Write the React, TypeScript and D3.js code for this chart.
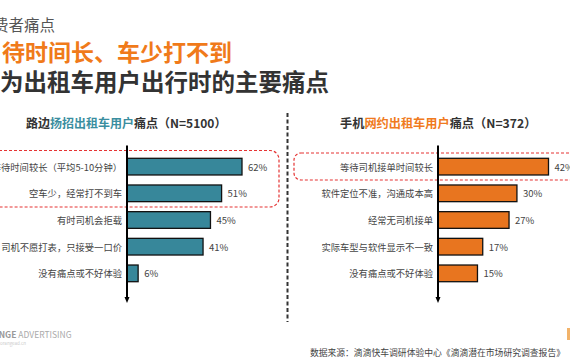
import React from "react";
import * as d3 from "d3";

const leftCategories = [
  "等待时间较长（平均5-10分钟）",
  "空车少，经常打不到车",
  "有时司机会拒载",
  "司机不愿打表，只接受一口价",
  "没有痛点或不好体验",
];
const leftValues = [62, 51, 45, 41, 6];
const rightCategories = [
  "等待司机接单时间较长",
  "软件定位不准，沟通成本高",
  "经常无司机接单",
  "实际车型与软件显示不一致",
  "没有痛点或不好体验",
];
const rightValues = [42, 30, 27, 17, 15];

const FONT = "'Noto Sans CJK SC', 'Noto Sans', sans-serif";
const TEAL = "#37879a";
const ORANGE = "#e8751f";

function Panel({ cats, vals, axisX, width, color }: { cats: string[]; vals: number[]; axisX: number; width: number; color: string }) {
  const y = d3.scaleBand<string>().domain(cats).range([153.3, 286.7]).paddingInner(0.375).paddingOuter(0.1875);
  const x = d3.scaleLinear().domain([0, d3.max(vals) as number]).range([axisX, axisX + width]);
  return (
    <g>
      {cats.map((c, i) => (
        <g key={c}>
          <rect x={x(0)} y={y(c)} width={x(vals[i]) - x(0)} height={y.bandwidth()} fill={color} stroke="#111" strokeWidth={1.3} />
          <text x={axisX - 5} y={(y(c) as number) + y.bandwidth() / 2} textAnchor="end" dominantBaseline="central" fontSize={9.3} fill="#444" fontFamily={FONT}>{c}</text>
          <text x={x(vals[i]) + 6} y={(y(c) as number) + y.bandwidth() / 2} dominantBaseline="central" fontSize={9.5} fill="#444" fontFamily={FONT}>{vals[i]}%</text>
        </g>
      ))}
      <line x1={axisX} x2={axisX} y1={145.5} y2={298} stroke="#000" strokeWidth={2} />
      <path d={`M${axisX - 2.5},${297} L${axisX + 2.5},${297} L${axisX},${303} Z`} fill="#000" />
    </g>
  );
}

export default function App() {
  return (
    <svg width={570} height={360} style={{ position: "absolute", left: 0, top: 0, background: "#fff" }} fontFamily={FONT}>
      <rect width={570} height={360} fill="#fff" />
      <text x={55} y={31} textAnchor="end" fontSize={15.5} fill="#555">消费者痛点</text>
      <text x={2} y={61} fontSize={23} fontWeight="bold" fill="#f07a1a">待时间长、车少打不到</text>
      <text x={0} y={91} fontSize={23.5} fontWeight="bold" fill="#333">为出租车用户出行时的主要痛点</text>

      <text x={26} y={128} fontSize={12} fontWeight="bold" fill="#333">
        路边<tspan fill="#3a8ea0">扬招出租车用户</tspan>痛点（N=5100）
      </text>
      <text x={340} y={128} fontSize={12.2} fontWeight="bold" fill="#333">
        手机<tspan fill="#f07a20">网约出租车用户</tspan>痛点（N=372）
      </text>

      <rect x={-20} y={150.5} width={299} height={56.5} rx={9} fill="none" stroke="#e53333" strokeWidth={1.2} strokeDasharray="3,2" />
      <rect x={294} y={153} width={300} height={27} rx={7} fill="none" stroke="#e53333" strokeWidth={1.2} strokeDasharray="3,2" />

      <Panel cats={leftCategories} vals={leftValues} axisX={127} width={115} color={TEAL} />
      <Panel cats={rightCategories} vals={rightValues} axisX={438} width={110.5} color={ORANGE} />

      <line x1={287.5} x2={287.5} y1={113} y2={322} stroke="#333" strokeWidth={2} strokeDasharray="4,2.5" />

      <text x={-19} y={338} fontSize={8.5} fill="#aaa"><tspan fontWeight="bold" fill="#999">ORANGE</tspan> ADVERTISING</text>
      <text x={0} y={345} fontSize={4.5} fill="#ccc">orangead.cn</text>
      <text x={565} y={356} textAnchor="end" fontSize={8.8} fill="#444">数据来源：滴滴快车调研体验中心《滴滴潜在市场研究调查报告》</text>
      <rect x={567} y={328} width={3} height={12} fill="#f2b36a" />
    </svg>
  );
}
